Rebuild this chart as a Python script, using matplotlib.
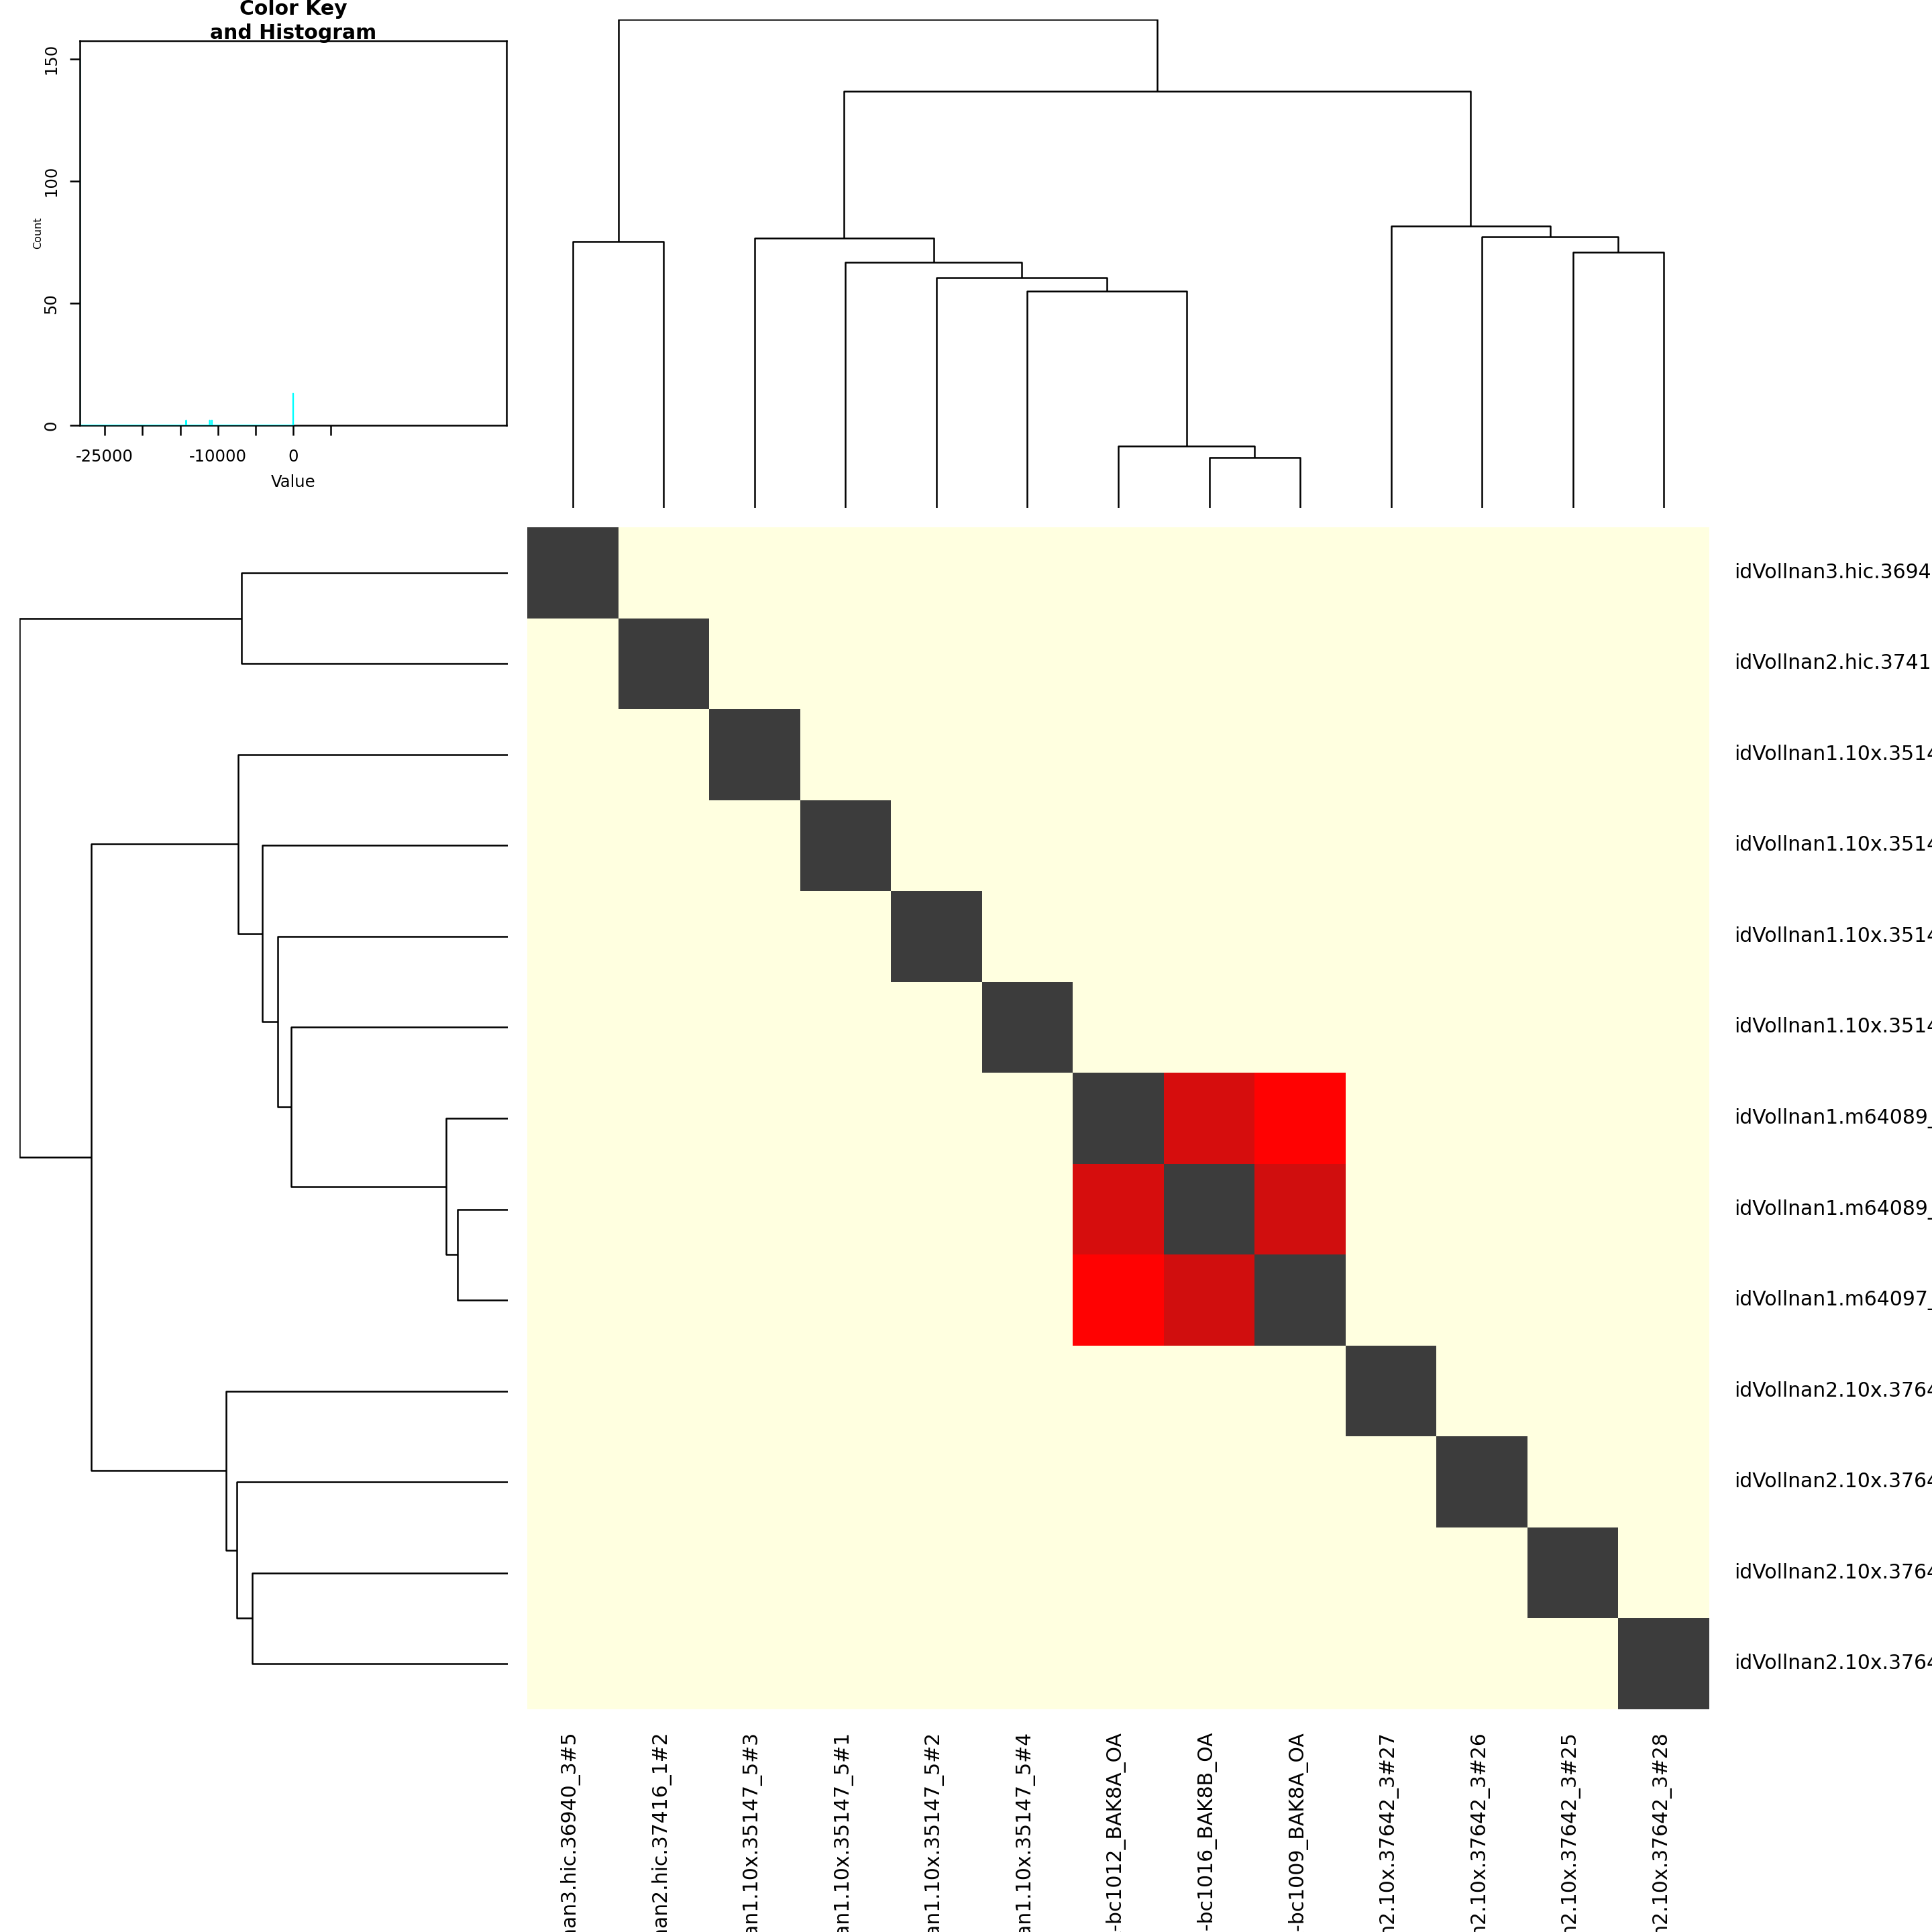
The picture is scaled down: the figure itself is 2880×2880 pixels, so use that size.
import matplotlib
matplotlib.use('Agg')
import matplotlib.pyplot as plt
import numpy as np
from matplotlib.colors import LinearSegmentedColormap, Normalize


# sample names, same order for rows (top to bottom) and columns (left to right)
labels = [
    'idVollnan3.hic.36940_3#5',
    'idVollnan2.hic.37416_1#2',
    'idVollnan1.10x.35147_5#3',
    'idVollnan1.10x.35147_5#1',
    'idVollnan1.10x.35147_5#2',
    'idVollnan1.10x.35147_5#4',
    'idVollnan1.m64089_200722_140405.ccs.bc1012_BAK8A-bc1012_BAK8A_OA',
    'idVollnan1.m64089_200722_140405.ccs.bc1016_BAK8B-bc1016_BAK8B_OA',
    'idVollnan1.m64097_200717_115213.ccs.bc1009_BAK8A-bc1009_BAK8A_OA',
    'idVollnan2.10x.37642_3#27',
    'idVollnan2.10x.37642_3#26',
    'idVollnan2.10x.37642_3#25',
    'idVollnan2.10x.37642_3#28',
]

# matrix values
off_value = -28318
diag_value = 0
pair_i = [6, 7, 6]
pair_j = [7, 8, 8]
pair_v = [-11069, -10778, -14200]

# dendrogram merges (leaf ids 0..12, merged nodes 13..24), heights
merge_a = [7, 6, 5, 4, 3, 2, 0, 11, 10, 9, 18, 19]
merge_b = [8, 13, 14, 15, 16, 17, 1, 12, 20, 21, 22, 23]
merge_h = [75, 92, 323, 343, 366, 402, 397, 381, 404, 420, 621, 728]

# key axis
key_ticks = [-25000, -20000, -15000, -10000, -5000, 0, 5000]
key_ticklabels = ['-25000', '', '', '-10000', '', '0', '']
count_ticks = [0, 50, 100, 150]

n = len(labels)
mat = np.full((n, n), float(off_value))
np.fill_diagonal(mat, diag_value)
for i, j, v in zip(pair_i, pair_j, pair_v):
    mat[i, j] = v
    mat[j, i] = v

vmax = max(abs(mat.min()), abs(mat.max()))
vmin = -vmax
red_pos = (-14200 - vmin) / (vmax - vmin)
cmap = LinearSegmentedColormap.from_list(
    'key', [(0, '#FFFFE0'), (red_pos, '#FF0000'), (0.5, '#3C3C3C'), (1, '#3C3C3C')])
norm = Normalize(vmin, vmax)

W = 2880.0


def place(x0, y0, x1, y1):
    return [x0 / W, 1 - y1 / W, (x1 - x0) / W, (y1 - y0) / W]


fig = plt.figure(figsize=(28.8, 28.8), dpi=100)

# heatmap
ax = fig.add_axes(place(786, 786, 2548, 2548))
ax.pcolormesh(np.arange(n + 1), np.arange(n + 1), mat, cmap=cmap, norm=norm)
ax.set_xlim(0, n)
ax.set_ylim(n, 0)
ax.axis('off')
for k, lab in enumerate(labels):
    ax.text(n + 0.275, k + 0.5, lab, fontsize=21.5, ha='left', va='center',
            clip_on=False)
    ax.text(k + 0.46, n + 0.235, lab, fontsize=21.5, ha='center', va='top',
            rotation=90, clip_on=False)

# dendrogram node positions
pos = [k + 0.5 for k in range(n)]
hgt = [0.0] * n
segs = []
for a, b, h in zip(merge_a, merge_b, merge_h):
    segs.append(([pos[a], pos[a], pos[b], pos[b]], [hgt[a], h, h, hgt[b]]))
    pos.append((pos[a] + pos[b]) / 2)
    hgt.append(h)

top = fig.add_axes(place(786, 29, 2548, 757))
for xs, ys in segs:
    top.plot(xs, ys, color='black', linewidth=1.8, solid_capstyle='butt')
top.set_xlim(0, n)
top.set_ylim(0, max(merge_h))
top.axis('off')

left = fig.add_axes(place(29, 786, 757, 2548))
for xs, ys in segs:
    left.plot(ys, xs, color='black', linewidth=1.8, solid_capstyle='butt')
left.set_ylim(n, 0)
left.set_xlim(max(merge_h), 0)
left.axis('off')

# color key and histogram
key = fig.add_axes(place(119, 61, 755, 634))
edges = np.linspace(vmin, vmax, 2002)
counts, _ = np.histogram(mat.ravel(), bins=edges)
last = np.nonzero(counts)[0].max()
hx = edges[:last + 2]
hy = np.append(counts[:last + 1], 0)
key.step(hx, hy, where='post', color='cyan', linewidth=1.5, zorder=2)
key.set_xlim(vmin, vmax)
key.set_ylim(0, 157.5)
key.set_xticks(key_ticks)
key.set_xticklabels(key_ticklabels, fontsize=17.5)
key.set_yticks(count_ticks)
key.set_yticklabels([str(c) for c in count_ticks], fontsize=17.5, rotation=90,
                    va='center')
key.tick_params(length=11, width=1.8)
key.tick_params(axis='x', pad=14)
key.tick_params(axis='y', pad=11)
for s in key.spines.values():
    s.set_linewidth(1.8)
    s.set_zorder(3)
key.spines['bottom'].set_zorder(1)
key.set_xlabel('Value', fontsize=17.5, labelpad=10)
key.set_ylabel('Count', fontsize=11.5, labelpad=0)
fig.text(437 / W, 1 + 1 / W, 'Color Key\nand Histogram', fontsize=21.5,
         fontweight='bold', ha='center', va='top', linespacing=1.32)

fig.savefig('out.png', dpi=100)
